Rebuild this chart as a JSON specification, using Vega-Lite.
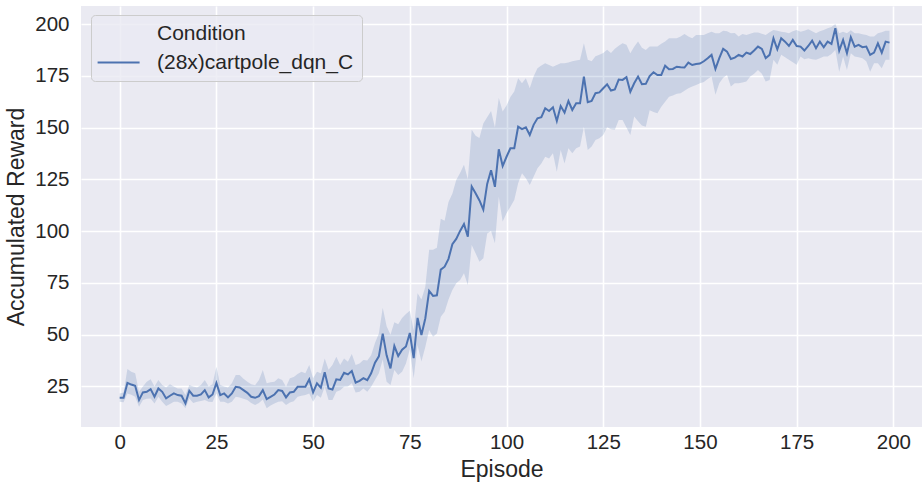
{
  "$schema": "https://vega.github.io/schema/vega-lite/v6.json",
  "width": 841,
  "height": 421,
  "autosize": "none",
  "padding": {"left": 81, "top": 6, "right": 0, "bottom": 57},
  "background": "white",
  "config": {
    "view": {"fill": "#EAEAF2", "stroke": null},
    "font": "Liberation Sans",
    "axis": {
      "domain": false,
      "ticks": false,
      "grid": true,
      "gridColor": "#FFFFFF",
      "gridWidth": 1.6,
      "labelFont": "Liberation Sans",
      "labelFontSize": 20.5,
      "labelColor": "#262626",
      "titleFont": "Liberation Sans",
      "titleFontSize": 23,
      "titleFontWeight": "normal",
      "titleColor": "#262626"
    }
  },
  "data": {
    "values": [
      {"ep":0,"m":19.5,"lo":17.6,"hi":21.6},{"ep":1,"m":19.5,"lo":17.3,"hi":22.0},{"ep":2,"m":26.7,"lo":21.6,"hi":33.4},{"ep":3,"m":25.9,"lo":21.0,"hi":32.1},{"ep":4,"m":25.3,"lo":20.0,"hi":31.3},
      {"ep":5,"m":18.4,"lo":15.2,"hi":22.4},{"ep":6,"m":22.1,"lo":18.4,"hi":24.9},{"ep":7,"m":22.4,"lo":19.0,"hi":27.3},{"ep":8,"m":23.7,"lo":19.2,"hi":28.5},{"ep":9,"m":20.0,"lo":16.8,"hi":24.9},
      {"ep":10,"m":24.0,"lo":20.0,"hi":28.1},{"ep":11,"m":22.4,"lo":17.6,"hi":25.7},{"ep":12,"m":19.2,"lo":15.5,"hi":24.5},{"ep":13,"m":20.5,"lo":16.5,"hi":26.0},{"ep":14,"m":21.6,"lo":17.6,"hi":25.0},
      {"ep":15,"m":20.8,"lo":17.6,"hi":24.0},{"ep":16,"m":20.5,"lo":16.8,"hi":24.0},{"ep":17,"m":16.8,"lo":14.4,"hi":20.8},{"ep":18,"m":22.9,"lo":19.2,"hi":25.7},{"ep":19,"m":20.5,"lo":17.0,"hi":24.9},
      {"ep":20,"m":20.5,"lo":17.6,"hi":24.5},{"ep":21,"m":21.1,"lo":18.0,"hi":25.7},{"ep":22,"m":23.2,"lo":18.4,"hi":28.1},{"ep":23,"m":19.7,"lo":17.6,"hi":24.9},{"ep":24,"m":21.1,"lo":17.5,"hi":26.0},
      {"ep":25,"m":26.7,"lo":21.6,"hi":34.5},{"ep":26,"m":20.8,"lo":17.6,"hi":25.7},{"ep":27,"m":21.6,"lo":17.6,"hi":25.0},{"ep":28,"m":19.7,"lo":16.8,"hi":24.5},{"ep":29,"m":21.6,"lo":17.6,"hi":26.5},
      {"ep":30,"m":24.8,"lo":20.0,"hi":30.5},{"ep":31,"m":24.5,"lo":19.6,"hi":30.5},{"ep":32,"m":23.2,"lo":19.0,"hi":28.7},{"ep":33,"m":21.9,"lo":18.4,"hi":27.3},{"ep":34,"m":20.0,"lo":17.0,"hi":26.0},
      {"ep":35,"m":19.5,"lo":16.0,"hi":25.6},{"ep":36,"m":20.3,"lo":17.0,"hi":28.1},{"ep":37,"m":23.2,"lo":18.7,"hi":32.9},{"ep":38,"m":18.9,"lo":14.4,"hi":26.5},{"ep":39,"m":20.0,"lo":15.8,"hi":27.0},
      {"ep":40,"m":21.1,"lo":16.8,"hi":27.3},{"ep":41,"m":23.2,"lo":17.6,"hi":28.9},{"ep":42,"m":22.8,"lo":17.8,"hi":28.1},{"ep":43,"m":19.7,"lo":16.0,"hi":24.8},{"ep":44,"m":22.1,"lo":17.2,"hi":28.9},
      {"ep":45,"m":22.4,"lo":17.8,"hi":29.5},{"ep":46,"m":24.8,"lo":20.0,"hi":31.0},{"ep":47,"m":24.8,"lo":20.5,"hi":32.1},{"ep":48,"m":24.8,"lo":20.8,"hi":31.3},{"ep":49,"m":28.4,"lo":21.6,"hi":35.3},
      {"ep":50,"m":22.1,"lo":17.6,"hi":28.9},{"ep":51,"m":26.5,"lo":20.8,"hi":32.1},{"ep":52,"m":24.4,"lo":19.5,"hi":31.3},{"ep":53,"m":31.9,"lo":24.8,"hi":38.5},{"ep":54,"m":24.0,"lo":18.4,"hi":33.0},
      {"ep":55,"m":23.5,"lo":18.4,"hi":35.3},{"ep":56,"m":28.4,"lo":22.4,"hi":39.3},{"ep":57,"m":28.1,"lo":23.2,"hi":35.3},{"ep":58,"m":31.6,"lo":24.8,"hi":38.5},{"ep":59,"m":30.8,"lo":25.0,"hi":36.9},
      {"ep":60,"m":32.4,"lo":26.5,"hi":40.6},{"ep":61,"m":26.8,"lo":22.0,"hi":35.3},{"ep":62,"m":27.7,"lo":22.4,"hi":36.1},{"ep":63,"m":29.0,"lo":24.0,"hi":37.7},{"ep":64,"m":28.0,"lo":22.4,"hi":37.5},
      {"ep":65,"m":31.3,"lo":24.8,"hi":40.0},{"ep":66,"m":36.5,"lo":28.1,"hi":46.0},{"ep":67,"m":39.5,"lo":31.3,"hi":50.6},{"ep":68,"m":50.5,"lo":38.0,"hi":63.0},{"ep":69,"m":40.0,"lo":27.3,"hi":54.0},
      {"ep":70,"m":33.7,"lo":25.7,"hi":50.0},{"ep":71,"m":44.5,"lo":32.9,"hi":56.0},{"ep":72,"m":39.7,"lo":30.5,"hi":55.0},{"ep":73,"m":42.7,"lo":32.1,"hi":58.0},{"ep":74,"m":44.3,"lo":36.1,"hi":60.0},
      {"ep":75,"m":50.8,"lo":43.0,"hi":61.5},{"ep":76,"m":38.7,"lo":28.9,"hi":52.0},{"ep":77,"m":58.1,"lo":45.0,"hi":70.0},{"ep":78,"m":49.8,"lo":37.0,"hi":67.0},{"ep":79,"m":57.8,"lo":44.0,"hi":73.0},
      {"ep":80,"m":71.1,"lo":52.2,"hi":91.0},{"ep":81,"m":68.7,"lo":49.0,"hi":91.0},{"ep":82,"m":69.0,"lo":50.6,"hi":92.0},{"ep":83,"m":81.4,"lo":58.6,"hi":106.0},{"ep":84,"m":82.8,"lo":61.1,"hi":105.0},
      {"ep":85,"m":86.6,"lo":67.0,"hi":114.0},{"ep":86,"m":93.7,"lo":71.5,"hi":118.0},{"ep":87,"m":96.2,"lo":74.8,"hi":124.7},{"ep":88,"m":100.1,"lo":76.4,"hi":128.0},{"ep":89,"m":103.4,"lo":79.6,"hi":132.0},
      {"ep":90,"m":97.3,"lo":74.0,"hi":125.0},{"ep":91,"m":121.5,"lo":93.3,"hi":149.0},{"ep":92,"m":118.3,"lo":89.3,"hi":146.0},{"ep":93,"m":114.8,"lo":85.2,"hi":145.0},{"ep":94,"m":110.4,"lo":86.9,"hi":152.0},
      {"ep":95,"m":122.8,"lo":98.9,"hi":155.0},{"ep":96,"m":129.4,"lo":100.0,"hi":158.0},{"ep":97,"m":121.4,"lo":94.1,"hi":150.0},{"ep":98,"m":139.5,"lo":116.6,"hi":164.3},{"ep":99,"m":131.4,"lo":104.6,"hi":157.8},
      {"ep":100,"m":135.9,"lo":108.6,"hi":160.6},{"ep":101,"m":140.0,"lo":111.8,"hi":164.7},{"ep":102,"m":140.0,"lo":115.0,"hi":167.4},{"ep":103,"m":150.4,"lo":123.1,"hi":173.8},{"ep":104,"m":149.2,"lo":127.9,"hi":171.4},
      {"ep":105,"m":150.1,"lo":125.5,"hi":173.8},{"ep":106,"m":146.4,"lo":122.3,"hi":169.0},{"ep":107,"m":151.3,"lo":126.3,"hi":174.6},{"ep":108,"m":154.5,"lo":130.3,"hi":178.6},{"ep":109,"m":155.0,"lo":132.7,"hi":180.0},
      {"ep":110,"m":159.3,"lo":135.9,"hi":181.0},{"ep":111,"m":158.0,"lo":135.1,"hi":180.2},{"ep":112,"m":159.8,"lo":137.6,"hi":179.4},{"ep":113,"m":153.2,"lo":128.7,"hi":180.2},{"ep":114,"m":160.4,"lo":139.2,"hi":181.0},
      {"ep":115,"m":157.2,"lo":132.7,"hi":181.0},{"ep":116,"m":162.8,"lo":140.0,"hi":181.4},{"ep":117,"m":158.5,"lo":137.6,"hi":182.0},{"ep":118,"m":161.7,"lo":140.0,"hi":182.4},{"ep":119,"m":161.7,"lo":140.8,"hi":182.7},
      {"ep":120,"m":174.6,"lo":150.4,"hi":190.7},{"ep":121,"m":162.2,"lo":139.2,"hi":182.7},{"ep":122,"m":162.8,"lo":140.8,"hi":182.0},{"ep":123,"m":166.6,"lo":144.0,"hi":184.4},{"ep":124,"m":167.0,"lo":144.8,"hi":185.2},
      {"ep":125,"m":169.0,"lo":146.4,"hi":186.0},{"ep":126,"m":170.9,"lo":150.1,"hi":187.6},{"ep":127,"m":167.9,"lo":149.2,"hi":186.0},{"ep":128,"m":168.4,"lo":149.0,"hi":188.0},{"ep":129,"m":173.2,"lo":153.7,"hi":189.5},
      {"ep":130,"m":173.0,"lo":153.7,"hi":190.7},{"ep":131,"m":174.3,"lo":150.0,"hi":190.0},{"ep":132,"m":167.3,"lo":146.4,"hi":185.9},{"ep":133,"m":171.4,"lo":155.3,"hi":189.0},{"ep":134,"m":174.6,"lo":153.0,"hi":191.5},
      {"ep":135,"m":170.9,"lo":151.0,"hi":188.5},{"ep":136,"m":171.1,"lo":150.4,"hi":187.5},{"ep":137,"m":174.9,"lo":158.4,"hi":189.1},{"ep":138,"m":176.7,"lo":157.5,"hi":189.1},{"ep":139,"m":175.4,"lo":156.9,"hi":189.1},
      {"ep":140,"m":175.4,"lo":160.0,"hi":190.5},{"ep":141,"m":179.9,"lo":162.5,"hi":191.5},{"ep":142,"m":178.2,"lo":164.9,"hi":193.1},{"ep":143,"m":178.3,"lo":165.5,"hi":193.1},{"ep":144,"m":179.4,"lo":166.3,"hi":193.1},
      {"ep":145,"m":179.1,"lo":166.6,"hi":194.0},{"ep":146,"m":179.0,"lo":167.8,"hi":195.2},{"ep":147,"m":181.4,"lo":169.0,"hi":194.0},{"ep":148,"m":180.2,"lo":169.8,"hi":193.1},{"ep":149,"m":180.7,"lo":170.5,"hi":194.7},
      {"ep":150,"m":180.9,"lo":171.4,"hi":194.7},{"ep":151,"m":182.0,"lo":172.0,"hi":194.7},{"ep":152,"m":183.5,"lo":173.5,"hi":195.5},{"ep":153,"m":185.1,"lo":174.6,"hi":196.3},{"ep":154,"m":178.3,"lo":165.8,"hi":195.5},
      {"ep":155,"m":183.5,"lo":171.4,"hi":195.5},{"ep":156,"m":188.0,"lo":174.0,"hi":196.8},{"ep":157,"m":186.7,"lo":175.4,"hi":196.5},{"ep":158,"m":183.1,"lo":169.8,"hi":195.5},{"ep":159,"m":183.8,"lo":171.4,"hi":195.7},
      {"ep":160,"m":185.1,"lo":171.4,"hi":194.0},{"ep":161,"m":184.3,"lo":171.8,"hi":195.2},{"ep":162,"m":186.2,"lo":172.2,"hi":194.7},{"ep":163,"m":185.5,"lo":174.6,"hi":195.3},{"ep":164,"m":187.2,"lo":176.0,"hi":195.9},
      {"ep":165,"m":189.1,"lo":177.8,"hi":195.9},{"ep":166,"m":188.0,"lo":176.0,"hi":195.3},{"ep":167,"m":183.5,"lo":172.2,"hi":194.7},{"ep":168,"m":185.1,"lo":173.0,"hi":196.0},{"ep":169,"m":193.1,"lo":182.7,"hi":197.1},
      {"ep":170,"m":187.8,"lo":180.3,"hi":196.7},{"ep":171,"m":193.1,"lo":185.1,"hi":196.3},{"ep":172,"m":191.5,"lo":184.0,"hi":196.0},{"ep":173,"m":189.4,"lo":182.7,"hi":195.5},{"ep":174,"m":192.3,"lo":181.5,"hi":196.5},
      {"ep":175,"m":189.4,"lo":180.3,"hi":197.1},{"ep":176,"m":189.1,"lo":184.3,"hi":196.3},{"ep":177,"m":187.2,"lo":183.0,"hi":196.8},{"ep":178,"m":189.4,"lo":183.5,"hi":197.5},{"ep":179,"m":192.0,"lo":183.0,"hi":196.5},
      {"ep":180,"m":188.3,"lo":182.7,"hi":195.5},{"ep":181,"m":191.5,"lo":183.5,"hi":196.5},{"ep":182,"m":188.8,"lo":184.3,"hi":197.1},{"ep":183,"m":191.5,"lo":184.3,"hi":197.9},{"ep":184,"m":190.4,"lo":185.5,"hi":198.5},
      {"ep":185,"m":198.0,"lo":187.5,"hi":200.0},{"ep":186,"m":187.2,"lo":177.0,"hi":195.5},{"ep":187,"m":192.3,"lo":184.3,"hi":196.3},{"ep":188,"m":185.9,"lo":177.8,"hi":195.5},{"ep":189,"m":193.6,"lo":185.9,"hi":197.0},
      {"ep":190,"m":189.1,"lo":184.3,"hi":195.5},{"ep":191,"m":189.9,"lo":184.0,"hi":195.5},{"ep":192,"m":188.8,"lo":183.5,"hi":195.0},{"ep":193,"m":189.1,"lo":182.0,"hi":194.7},{"ep":194,"m":185.1,"lo":177.0,"hi":194.0},
      {"ep":195,"m":186.2,"lo":181.1,"hi":194.0},{"ep":196,"m":190.7,"lo":181.0,"hi":195.5},{"ep":197,"m":186.2,"lo":178.7,"hi":196.0},{"ep":198,"m":191.5,"lo":182.7,"hi":196.8},{"ep":199,"m":191.0,"lo":182.7,"hi":196.8}
    ]
  },
  "layer": [
    {
      "mark": {"type": "area", "color": "#4C72B0", "opacity": 0.2},
      "encoding": {
        "x": {"field": "ep", "type": "quantitative", "scale": {"domain": [-10, 207.4], "nice": false, "zero": false},
              "axis": {"title": "Episode", "values": [0,25,50,75,100,125,150,175,200], "labelPadding": 5, "titlePadding": 6}},
        "y": {"field": "lo", "type": "quantitative", "scale": {"domain": [5.4, 208.7], "nice": false, "zero": false},
              "axis": {"title": "Accumulated Reward", "values": [25,50,75,100,125,150,175,200], "labelPadding": 12, "titlePadding": 6}},
        "y2": {"field": "hi"}
      }
    },
    {
      "mark": {"type": "line", "strokeWidth": 2},
      "encoding": {
        "x": {"field": "ep", "type": "quantitative"},
        "y": {"field": "m", "type": "quantitative"},
        "color": {
          "datum": "(28x)cartpole_dqn_C",
          "type": "nominal",
          "scale": {"domain": ["Condition", "(28x)cartpole_dqn_C"], "range": ["rgba(0,0,0,0)", "#4C72B0"]},
          "legend": {
            "orient": "none", "legendX": 10, "legendY": 9, "title": null,
            "symbolType": "M-1.7,0L4.3,0", "symbolSize": 196, "symbolStrokeWidth": 1.9,
            "labelFont": "Liberation Sans", "labelFontSize": 21, "labelColor": "#262626", "labelLimit": 0,
            "labelOffset": 37, "rowPadding": 7, "padding": 8,
            "fillColor": "rgba(234,234,242,0.8)", "strokeColor": "#CCCCCC", "cornerRadius": 4
          }
        }
      }
    }
  ]
}
